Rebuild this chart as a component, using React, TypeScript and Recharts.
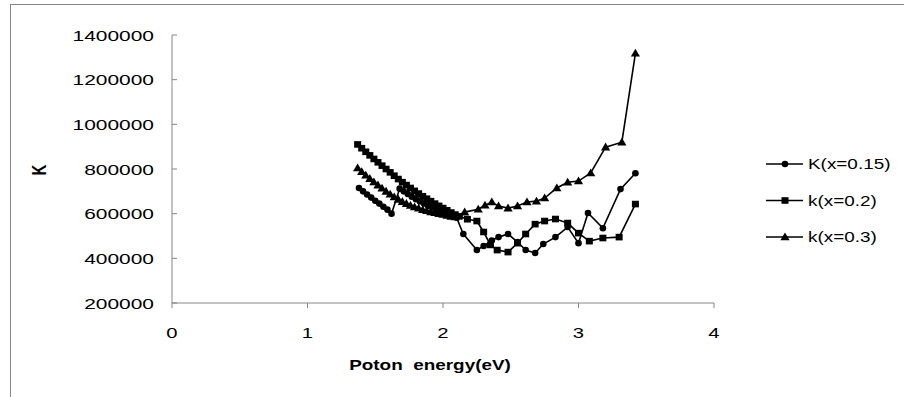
import { LineChart, Line, XAxis, YAxis, Legend, Label } from 'recharts'

// photon energy (eV) and K for each sample
const energy15 = [1.38, 1.41, 1.44, 1.47, 1.5, 1.53, 1.56, 1.59, 1.62, 1.68, 1.71, 1.74, 1.77, 1.8, 1.83, 1.86, 1.89, 1.92, 1.95, 1.98, 2.01, 2.04, 2.07, 2.1, 2.15, 2.25, 2.3, 2.36, 2.41, 2.48, 2.55, 2.61, 2.68, 2.74, 2.83, 2.92, 3.0, 3.07, 3.18, 3.31, 3.42]
const k15 = [715000, 700000, 686000, 672000, 658000, 645000, 631000, 618000, 600000, 712000, 700000, 688000, 676000, 665000, 655000, 645000, 636000, 628000, 620000, 612000, 604000, 597000, 590000, 582000, 509000, 437000, 455000, 480000, 495000, 509000, 473000, 437000, 424000, 464000, 495000, 540000, 468000, 603000, 535000, 710000, 781000]

const energy20 = [1.37, 1.4, 1.43, 1.46, 1.49, 1.52, 1.55, 1.58, 1.61, 1.64, 1.67, 1.7, 1.73, 1.76, 1.79, 1.82, 1.85, 1.88, 1.91, 1.94, 1.97, 2.0, 2.03, 2.06, 2.09, 2.12, 2.18, 2.25, 2.3, 2.35, 2.4, 2.48, 2.55, 2.61, 2.68, 2.75, 2.83, 2.92, 3.0, 3.08, 3.18, 3.3, 3.42]
const k20 = [910000, 893000, 877000, 861000, 845000, 830000, 815000, 800000, 785000, 770000, 755000, 741000, 728000, 715000, 702000, 690000, 678000, 667000, 656000, 645000, 635000, 625000, 615000, 605000, 596000, 588000, 575000, 567000, 518000, 460000, 437000, 428000, 468000, 509000, 553000, 567000, 576000, 558000, 513000, 477000, 491000, 495000, 643000]

const energy30 = [1.37, 1.4, 1.43, 1.46, 1.49, 1.52, 1.55, 1.58, 1.61, 1.64, 1.67, 1.7, 1.73, 1.76, 1.79, 1.82, 1.85, 1.88, 1.91, 1.94, 1.97, 2.0, 2.03, 2.06, 2.09, 2.16, 2.26, 2.31, 2.36, 2.41, 2.48, 2.55, 2.62, 2.69, 2.75, 2.84, 2.92, 3.0, 3.09, 3.2, 3.32, 3.42]
const k30 = [805000, 788000, 772000, 757000, 742000, 728000, 714000, 700000, 687000, 675000, 664000, 654000, 645000, 637000, 630000, 624000, 618000, 613000, 608000, 604000, 600000, 596000, 592000, 588000, 585000, 607000, 620000, 638000, 652000, 634000, 625000, 634000, 652000, 656000, 670000, 715000, 741000, 746000, 782000, 898000, 920000, 1318000]

const xTicks = [0, 1, 2, 3, 4]
const yTicks = [200000, 400000, 600000, 800000, 1000000, 1200000, 1400000]

const zip = (e: number[], k: number[]) => e.map((v, i) => ({ e: v, k: k[i] }))

const series = [
  { name: 'K(x=0.15)', data: zip(energy15, k15), shape: 'circle' },
  { name: 'k(x=0.2)', data: zip(energy20, k20), shape: 'square' },
  { name: 'k(x=0.3)', data: zip(energy30, k30), shape: 'triangle' },
]

const font = 'Liberation Sans, Arial, sans-serif'
const axisGray = '#868686'
const SX = 1.35

function Marker({ cx, cy, shape }: { cx: number; cy: number; shape: string }) {
  if (cx == null || cy == null) return null
  if (shape === 'square') return <rect x={cx - 3.5} y={cy - 3.3} width={7} height={6.6} fill="#000" />
  if (shape === 'triangle') return <polygon points={`${cx},${cy - 4.5} ${cx - 4.6},${cy + 3.3} ${cx + 4.6},${cy + 3.3}`} fill="#000" />
  return <circle cx={cx} cy={cy} r={3.3} fill="#000" />
}

const YTick = (props: any) => {
  const { x, y, payload } = props
  return (
    <g>
      <line x1={x + 18} x2={x + 23} y1={y} y2={y} stroke={axisGray} />
      <text transform={`translate(${x},${y + 5.5}) scale(${SX},1)`} textAnchor="end" fontSize={15.5} fontFamily={font} fill="#000">
        {payload.value}
      </text>
    </g>
  )
}

const XTick = (props: any) => {
  const { x, y, payload } = props
  return (
    <text transform={`translate(${x},${y + 12}) scale(${SX},1)`} textAnchor="middle" fontSize={15} fontFamily={font} fill="#000">
      {payload.value}
    </text>
  )
}

const LegendBox = () => (
  <svg width={144} height={110}>
    {series.map((s, i) => {
      const y = 19 + i * 36.5
      return (
        <g key={s.name}>
          <line x1={6} x2={43} y1={y} y2={y} stroke="#000" strokeWidth={1.6} />
          <Marker cx={25} cy={y} shape={s.shape} />
          <text transform={`translate(48,${y + 5}) scale(${SX},1)`} fontSize={14} fontFamily={font} fill="#000">
            {s.name}
          </text>
        </g>
      )
    })}
  </svg>
)

export default function App() {
  return (
    <div style={{ position: 'absolute', left: 0, top: 0, width: 904, height: 397, background: '#fff' }}>
      <svg width={904} height={397} style={{ position: 'absolute', left: 0, top: 0 }}>
        <rect x={10.5} y={4.5} width={905} height={410} fill="none" stroke={axisGray} />
      </svg>
      <LineChart width={904} height={397} margin={{ top: 35, right: 190, bottom: 64, left: 112 }} style={{ position: 'absolute', left: 0, top: 0 }}>
        <XAxis
          type="number"
          dataKey="e"
          domain={[0, 4]}
          ticks={xTicks}
          allowDataOverflow
          height={30}
          stroke={axisGray}
          tickSize={5}
          tickMargin={18}
          tick={<XTick />}
        >
          <Label
            content={() => (
              <text transform={`translate(430,370) scale(${SX},1)`} textAnchor="middle" fontSize={14} fontWeight="bold" fontFamily={font} fill="#000" style={{ whiteSpace: 'pre' }}>
                {'Poton  energy(eV)'}
              </text>
            )}
          />
        </XAxis>
        <YAxis
          type="number"
          domain={[200000, 1400000]}
          ticks={yTicks}
          allowDataOverflow
          width={60}
          stroke={axisGray}
          tickLine={false}
          tickSize={0}
          tickMargin={18}
          tick={<YTick />}
        >
          <Label
            content={() => (
              <text transform={`translate(46,170) scale(${SX},1) rotate(-90)`} textAnchor="middle" fontSize={15} fontWeight="bold" fontFamily={font} fill="#000">
                K
              </text>
            )}
          />
        </YAxis>
        <Legend
          layout="vertical"
          align="center"
          verticalAlign="middle"
          content={() => <LegendBox />}
          wrapperStyle={{ left: 760, top: 145, right: 'auto', bottom: 'auto', width: 144 }}
        />
        {series.map((s) => (
          <Line
            key={s.name}
            name={s.name}
            data={s.data}
            dataKey="k"
            stroke="#000"
            strokeWidth={1.6}
            dot={(p: any) => <Marker key={`${s.name}-${p.index}`} cx={p.cx} cy={p.cy} shape={s.shape} />}
            isAnimationActive={false}
          />
        ))}
      </LineChart>
    </div>
  )
}
